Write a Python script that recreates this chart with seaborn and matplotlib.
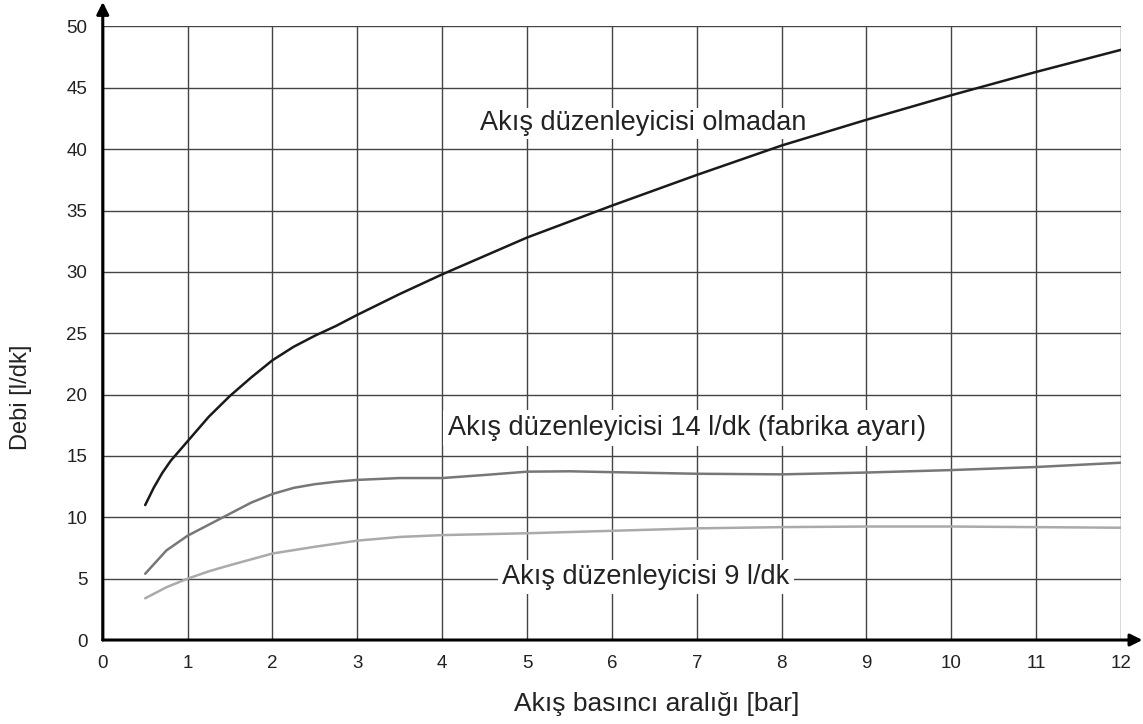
import numpy as np
import pandas as pd
import seaborn as sns
import matplotlib.pyplot as plt

# Data
x_no_reg = [0.5, 0.6, 0.7, 0.8, 0.9, 1.0, 1.25, 1.5, 1.75, 2.0, 2.25, 2.5, 2.75, 3.0, 3.5, 4.0, 4.5, 5.0, 5.5, 6.0, 7.0, 8.0, 9.0, 10.0, 11.0, 12.0]
y_no_reg = [11.0, 12.4, 13.6, 14.6, 15.4, 16.2, 18.2, 19.9, 21.4, 22.8, 23.9, 24.8, 25.6, 26.5, 28.2, 29.8, 31.3, 32.8, 34.1, 35.4, 37.9, 40.3, 42.4, 44.4, 46.3, 48.1]

x_reg14 = [0.5, 0.75, 1.0, 1.25, 1.5, 1.75, 2.0, 2.25, 2.5, 2.75, 3.0, 3.5, 4.0, 4.5, 5.0, 5.5, 6.0, 7.0, 8.0, 9.0, 10.0, 11.0, 12.0]
y_reg14 = [5.4, 7.3, 8.5, 9.4, 10.3, 11.2, 11.9, 12.4, 12.7, 12.9, 13.05, 13.2, 13.2, 13.45, 13.72, 13.75, 13.68, 13.55, 13.5, 13.65, 13.85, 14.1, 14.45]

x_reg9 = [0.5, 0.75, 1.0, 1.25, 1.5, 2.0, 2.5, 3.0, 3.5, 4.0, 5.0, 6.0, 7.0, 8.0, 9.0, 10.0, 11.0, 12.0]
y_reg9 = [3.4, 4.3, 5.0, 5.6, 6.1, 7.05, 7.6, 8.1, 8.4, 8.55, 8.7, 8.9, 9.1, 9.2, 9.25, 9.25, 9.2, 9.15]

x_ticks = list(range(0, 13))
y_ticks = list(range(0, 51, 5))

sns.set_style('white')
plt.rcParams['font.family'] = ['Liberation Sans', 'DejaVu Sans']

fig = plt.figure(figsize=(11.43, 7.24), dpi=100)
ax = fig.add_axes([0.0899, 0.116, 0.8909, 0.8474])

# curves drawn above the label boxes
sns.lineplot(x=x_no_reg, y=y_no_reg, color='#1a1a1a', lw=1.8, ax=ax, zorder=5)
sns.lineplot(x=x_reg14, y=y_reg14, color='#777777', lw=1.8, ax=ax, zorder=5)
sns.lineplot(x=x_reg9, y=y_reg9, color='#aaaaaa', lw=1.8, ax=ax, zorder=5)

ax.set_xlim(0, 12)
ax.set_ylim(0, 50)
ax.set_xticks(x_ticks)
ax.set_yticks(y_ticks)
ax.grid(True, color='#444444', lw=1.0)
ax.tick_params(axis='both', length=6, width=1.0, color='#444444', labelsize=13.5,
               labelcolor='#222222', pad=5)

for s in ax.spines.values():
    s.set_visible(False)

# axis arrows
ax.annotate('', xy=(0, 1.04), xytext=(0, 0), xycoords='axes fraction',
            arrowprops=dict(arrowstyle='-|>', lw=2.2, color='black', mutation_scale=18,
                            shrinkA=0, shrinkB=0), annotation_clip=False)
ax.annotate('', xy=(1.021, 0), xytext=(0, 0), xycoords='axes fraction',
            arrowprops=dict(arrowstyle='-|>', lw=2.2, color='black', mutation_scale=18,
                            shrinkA=0, shrinkB=0), annotation_clip=False)

ax.set_xlabel('Akış basıncı aralığı [bar]', fontsize=19, color='#222222')
ax.set_ylabel('Debi [l/dk]', fontsize=17, color='#222222')
ax.xaxis.set_label_coords(0.544, -0.085)
ax.yaxis.set_label_coords(-0.069, 0.395)

ax.text(4.45, 42.1, 'Akış düzenleyicisi olmadan', fontsize=19.5, va='center', color='#222222', zorder=4,
        bbox=dict(facecolor='white', edgecolor='none', pad=1.5))
ax.text(4.07, 17.3, 'Akış düzenleyicisi 14 l/dk (fabrika ayarı)', fontsize=19.5, va='center',
        color='#222222', zorder=4,
        bbox=dict(facecolor='white', edgecolor='none', pad=3.5))
ax.text(4.71, 5.1, 'Akış düzenleyicisi 9 l/dk', fontsize=19.5, va='center', color='#222222', zorder=4,
        bbox=dict(facecolor='white', edgecolor='none', pad=3))

fig.savefig('out.png', dpi=100)
